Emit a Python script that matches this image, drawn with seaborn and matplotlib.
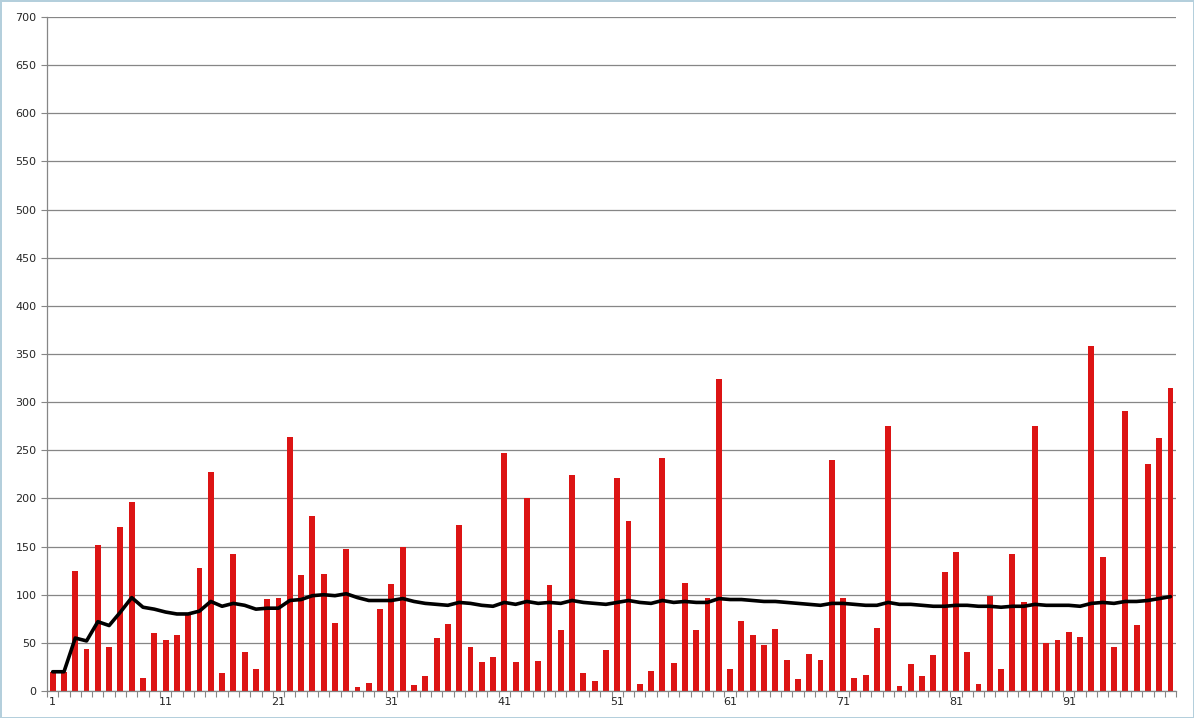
import numpy as np
import pandas as pd
import matplotlib
matplotlib.use("Agg")
import matplotlib.pyplot as plt
import seaborn as sns

# values
days = list(range(1, 101))
counts = [20, 20, 125, 44, 152, 46, 170, 196, 13, 60,
          53, 58, 79, 128, 227, 19, 142, 41, 23, 96,
          97, 264, 120, 182, 122, 71, 147, 4, 8, 85,
          111, 150, 6, 16, 55, 70, 172, 46, 30, 35,
          247, 30, 200, 31, 110, 63, 224, 19, 10, 43,
          221, 177, 7, 21, 242, 29, 112, 63, 97, 324,
          23, 73, 58, 48, 64, 32, 12, 38, 32, 240,
          97, 13, 17, 65, 275, 5, 28, 16, 37, 124,
          144, 41, 7, 99, 23, 142, 92, 275, 50, 53,
          61, 56, 358, 139, 46, 291, 69, 236, 263, 315]
avg = [20, 20, 55, 52, 72, 68, 82, 97, 87, 85,
       82, 80, 80, 83, 93, 88, 91, 89, 85, 86,
       86, 94, 95, 99, 100, 99, 101, 97, 94, 94,
       94, 96, 93, 91, 90, 89, 92, 91, 89, 88,
       92, 90, 93, 91, 92, 91, 94, 92, 91, 90,
       92, 94, 92, 91, 94, 92, 93, 92, 92, 96,
       95, 95, 94, 93, 93, 92, 91, 90, 89, 91,
       91, 90, 89, 89, 92, 90, 90, 89, 88, 88,
       89, 89, 88, 88, 87, 88, 88, 90, 89, 89,
       89, 88, 91, 92, 91, 93, 93, 94, 96, 98]
y_ticks = list(range(0, 701, 50))
x_labels = [1, 11, 21, 31, 41, 51, 61, 71, 81, 91]

df = pd.DataFrame({"day": days, "count": counts, "avg": avg})

sns.set_style("white")
plt.rcParams["font.family"] = ["DejaVu Sans"]

fig = plt.figure(figsize=(11.94, 7.18), dpi=100)
fig.patch.set_edgecolor("#b4cfdc")
fig.patch.set_linewidth(2)
ax = fig.add_axes([0.0394, 0.0376, 0.9456, 0.9387])

sns.barplot(data=df, x="day", y="count", color="#dc1414", saturation=1,
            width=0.52, linewidth=0, ax=ax, zorder=2)
sns.lineplot(x=np.arange(len(days)), y=df["avg"], color="black",
             linewidth=2.6, ax=ax, zorder=3)

ax.set_xlim(-0.5, len(days) - 0.5)
ax.set_ylim(0, 700)
ax.set_yticks(y_ticks)
ax.yaxis.grid(True, color="#868686", linewidth=0.9, zorder=0)
ax.set_axisbelow(True)

ax.set_xticks([d - 1 for d in x_labels])
ax.set_xticklabels([str(d) for d in x_labels])
ax.set_xticks(np.arange(-0.5, len(days), 1), minor=True)
ax.tick_params(axis="x", which="major", length=0, labelsize=8, pad=4)
ax.tick_params(axis="x", which="minor", length=4, color="#868686",
               width=0.8, bottom=True)
ax.tick_params(axis="y", length=4, color="#868686", width=0.8,
               labelsize=8, left=True)

ax.set_xlabel("")
ax.set_ylabel("")
for side in ["top", "right"]:
    ax.spines[side].set_visible(False)
for side in ["left", "bottom"]:
    ax.spines[side].set_color("#868686")
    ax.spines[side].set_linewidth(0.9)

fig.savefig("out.png", dpi=100)
